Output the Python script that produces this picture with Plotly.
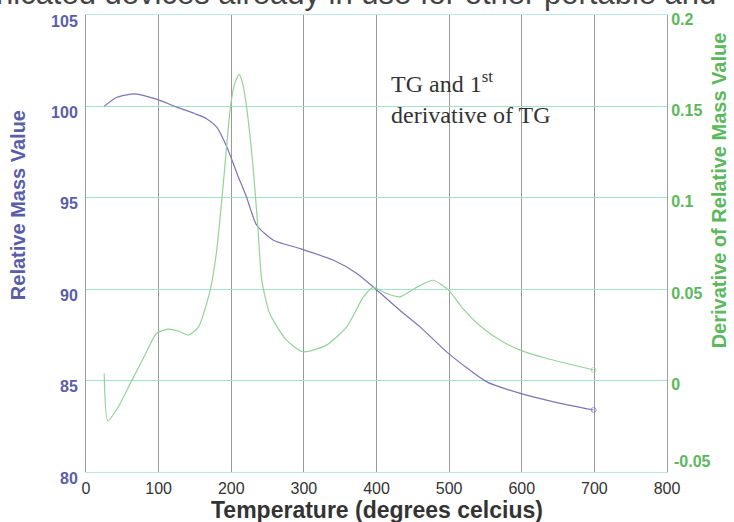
import plotly.graph_objects as go

# ---- data ----
tg_temp = [25, 40, 65, 97, 125, 150, 166, 180, 194, 208, 221, 235, 258, 295,
           341, 373, 398, 432, 460, 499, 552, 598, 644, 699]
tg_mass = [100.0, 100.45, 100.69, 100.4, 99.96, 99.6, 99.33, 98.87, 97.78, 96.32,
           95.04, 93.5, 92.68, 92.22, 91.58, 90.86, 90.04, 88.85, 87.94, 86.49,
           84.93, 84.3, 83.84, 83.39]

dtg_temp = [25, 30, 45, 63, 80, 97, 113, 128, 141, 155, 171, 180, 190, 199, 205,
            211, 216, 221, 230, 237, 242, 253, 276, 299, 331, 359, 382, 396, 412,
            432, 455, 478, 499, 520, 547, 575, 598, 635, 699]
dtg_val = [0.004, -0.022, -0.014, 0.0, 0.013, 0.0258, 0.0282, 0.027, 0.0249, 0.0294,
           0.0495, 0.0713, 0.112, 0.15, 0.163, 0.1675, 0.162, 0.15, 0.117, 0.082,
           0.055, 0.0367, 0.0221, 0.0158, 0.0194, 0.0294, 0.0458, 0.051, 0.048,
           0.0458, 0.051, 0.0549, 0.0495, 0.039, 0.0285, 0.021, 0.0167, 0.0121, 0.0058]

x_ticks = [0, 100, 200, 300, 400, 500, 600, 700, 800]
y_ticks = [80, 85, 90, 95, 100, 105]
y2_ticks = [0, 0.05, 0.1, 0.15, 0.2]
y2_ticktext = ["0", "0.05", "0.1", "0.15", "0.2"]
y2_bottom_label = "-0.05"

TG_COLOR = "#7d74b8"
DTG_COLOR = "#93d39a"
LEFT_COLOR = "#5a5ea8"
RIGHT_COLOR = "#5cb85c"

fig = go.Figure()
fig.add_trace(go.Scatter(
    x=dtg_temp, y=dtg_val, yaxis="y2", mode="lines+markers",
    line=dict(color=DTG_COLOR, width=1.2, shape="spline", smoothing=0.6),
    marker=dict(size=[0] * (len(dtg_temp) - 1) + [5], symbol="circle-open",
                color=DTG_COLOR),
    showlegend=False, hoverinfo="skip"))
fig.add_trace(go.Scatter(
    x=tg_temp, y=tg_mass, mode="lines+markers",
    line=dict(color=TG_COLOR, width=1.2, shape="spline", smoothing=0.6),
    marker=dict(size=[0] * (len(tg_temp) - 1) + [5], symbol="circle-open",
                color=TG_COLOR),
    showlegend=False, hoverinfo="skip"))

fig.update_layout(
    width=734, height=522,
    margin=dict(l=86, r=67, t=15, b=50),
    paper_bgcolor="white", plot_bgcolor="white",
    font=dict(family="Liberation Sans, Arial, sans-serif"),
    xaxis=dict(
        range=[0, 800], tickvals=x_ticks, showgrid=True, gridcolor="#9a9a9a",
        gridwidth=1, zeroline=False, showline=True, linecolor="#b8e8e0",
        mirror=True, ticks="", ticklabelstandoff=2,
        tickfont=dict(size=16, color="#333333"),
    ),
    yaxis=dict(
        range=[80, 105], tickvals=y_ticks, showgrid=True, gridcolor="#a2e2c8",
        gridwidth=1.2, zeroline=False, showline=True, linecolor="#9a9a9a",
        ticks="", ticklabelshift=6, ticklabelstandoff=4,
        tickfont=dict(size=16, color=LEFT_COLOR, weight="bold"),
    ),
    yaxis2=dict(
        range=[-0.05, 0.2], tickvals=y2_ticks, ticktext=y2_ticktext,
        overlaying="y", side="right", showgrid=False, zeroline=False,
        showline=True, linecolor="#a0a0a0", ticks="", ticklabelshift=4,
        tickfont=dict(size=16, color=RIGHT_COLOR, weight="bold"),
    ),
    annotations=[
        dict(text=y2_bottom_label, xref="paper", yref="y2",
             x=1.008, y=-0.05, showarrow=False, xanchor="left", yanchor="bottom",
             font=dict(size=16, color=RIGHT_COLOR, weight="bold")),
        dict(text="Relative Mass Value", xref="paper", yref="paper",
             x=-0.117, y=0.584, textangle=-90, showarrow=False,
             xanchor="center", yanchor="middle",
             font=dict(size=20, color=LEFT_COLOR, weight="bold")),
        dict(text="Derivative of Relative Mass Value", xref="paper", yref="paper",
             x=1.091, y=0.616, textangle=-90, showarrow=False,
             xanchor="center", yanchor="middle",
             font=dict(size=20, color=RIGHT_COLOR, weight="bold")),
        dict(text="Temperature (degrees celcius)", xref="paper", yref="paper",
             x=0.5, y=-0.083, showarrow=False, xanchor="center", yanchor="middle",
             font=dict(size=23, color="#333333", weight="bold")),
        dict(text="TG and 1<sup>st</sup><br>derivative of TG", xref="x", yref="y",
             x=417, y=100.49, showarrow=False, xanchor="left", yanchor="middle",
             align="left",
             font=dict(family="Liberation Serif, Times New Roman, serif",
                       size=24, color="#333333")),
        dict(text="nicated devices already in use for other portable and",
             xref="paper", yref="paper", x=1.088, y=1.046, showarrow=False,
             xanchor="right", yanchor="middle",
             font=dict(size=31, color="#444444")),
    ],
)

fig.write_html("out.html")
